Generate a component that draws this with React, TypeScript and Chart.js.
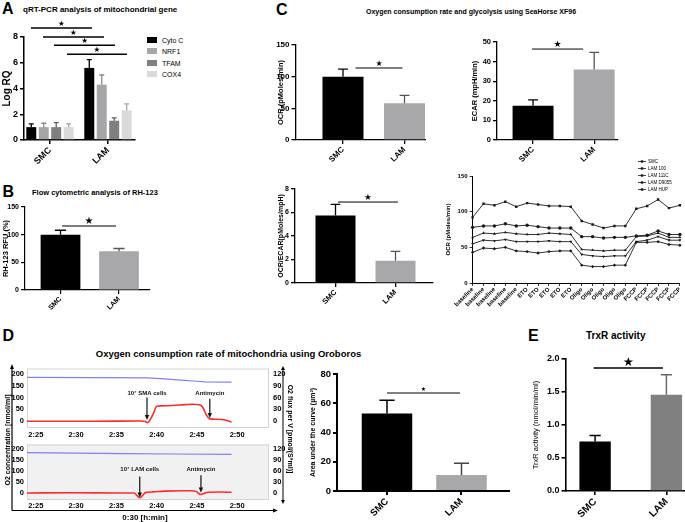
import React, { useEffect, useRef } from 'react';
import { Chart, registerables } from 'chart.js';

Chart.register(...registerables);
const FONT = '"Liberation Sans", Arial, Helvetica, sans-serif';
Chart.defaults.font.family = FONT;
Chart.defaults.color = '#000';

// ---------------- data ----------------
const GROUPS = ['SMC', 'LAM'];

// A: qRT-PCR
const A_GENES = ['Cyto C', 'NRF1', 'TFAM', 'COX4'];
const A_SMC = [1.0, 1.0, 1.0, 1.0];
const A_SMC_ERR = [0.25, 0.3, 0.35, 0.25];
const A_LAM = [5.6, 4.3, 1.5, 2.3];
const A_LAM_ERR = [0.65, 0.75, 0.22, 0.5];
const A_COLORS = ['#000000', '#a6a6a8', '#7f7f81', '#dadada'];
const A_ERR_COLORS = ['#000000', '#8a8a8c', '#5f5f61', '#a5a5a5'];
const A_TICKS = [0, 2, 4, 6, 8];

// B: RH-123
const B_VALUES = [100, 70];
const B_ERR = [8, 5];
const B_TICKS = [0, 50, 100, 150];

// C: SeaHorse
const C_OCR = [100, 58];
const C_OCR_ERR = [12, 12.5];
const C_OCR_TICKS = [0, 50, 100, 150];
const C_ECAR = [17.5, 36];
const C_ECAR_ERR = [3, 8.7];
const C_ECAR_TICKS = [0, 10, 20, 30, 40, 50];
const C_RATIO = [5.75, 1.9];
const C_RATIO_ERR = [0.95, 0.8];
const C_RATIO_TICKS = [0, 2, 4, 6, 8];

const C4_LABELS = [
  'baseline', 'baseline', 'baseline', 'baseline', 'baseline',
  'ETO', 'ETO', 'ETO', 'ETO', 'ETO',
  'Oligo', 'Oligo', 'Oligo', 'Oligo', 'Oligo',
  'FCCP', 'FCCP', 'FCCP', 'FCCP', 'FCCP',
];
const C4_NAMES = ['SMC', 'LAM 100', 'LAM 111C', 'LAM D9055', 'LAM HUP'];
const C4_SMC = [92, 111, 109, 114, 107, 112, 110, 108, 108, 107, 87, 82, 77, 80, 80, 104, 108, 117, 105, 109];
const C4_LAM100 = [78, 80, 80, 83, 80, 81, 79, 77, 77, 77, 65, 65, 63, 64, 64, 66, 67, 73, 68, 68];
const C4_LAM111C = [64, 70, 69, 71, 69, 68, 68, 70, 69, 68, 47, 46, 45, 46, 46, 65, 66, 70, 64, 64];
const C4_LAMD9055 = [55, 60, 59, 61, 58, 58, 58, 59, 58, 58, 40, 38, 37, 38, 38, 58, 60, 65, 60, 60];
const C4_LAMHUP = [43, 49, 48, 50, 45, 44, 42, 44, 45, 45, 25, 23, 23, 25, 25, 57, 57, 58, 54, 53];
const C4_SERIES = [C4_SMC, C4_LAM100, C4_LAM111C, C4_LAMD9055, C4_LAMHUP];
const C4_MARKERS = ['rect', 'circle', 'triangle', 'triangle', 'rectRot'];
const C4_MARKER_ROT = [0, 0, 0, 180, 0];
const C4_TICKS = [0, 50, 100, 150];

// D: Oroboros traces (time in minutes, e.g. 145 = 2:25)
const ORO_TIME_TICKS = [145, 150, 155, 160, 165, 170];
const ORO_LEFT_TICKS = [0, 50, 100, 150, 200];
const ORO_RIGHT_TICKS = [0, 30, 60, 90, 120];
const SMC_O2_T = [143.9, 152, 158.8, 161, 163, 165, 166, 169.3];
const SMC_O2_V = [185, 184, 183, 179, 174, 169, 166, 165];
const SMC_FLUX_T = [143.9, 152, 158, 158.6, 158.85, 159.2, 159.6, 160, 160.5, 162, 163.5, 164.5, 165.3, 165.7, 166.2, 166.6, 167.5, 168.5, 169.3];
const SMC_FLUX_V = [0, 0, 0.5, -1, -4, 4, 20, 38, 39, 40, 42, 43, 42, 36, 15, 6, 5, 3, -2];
const LAM_O2_T = [143.9, 150, 156, 162, 169.3];
const LAM_O2_V = [182, 180, 178, 176, 174];
const LAM_FLUX_T = [143.9, 150, 155, 157.2, 157.6, 157.9, 158.2, 158.6, 159.5, 161, 163, 164.3, 165, 165.4, 165.8, 166.4, 168, 169.3];
const LAM_FLUX_V = [0, 0.5, 0, 0, -8, -13, -8, 1, 3, 5, 6, 6, 3, -4, -2, 2, 2.5, 2];

// D: area under curve
const D_AUC = [53, 11];
const D_AUC_ERR = [9, 8];
const D_TICKS = [0, 20, 40, 60, 80];

// E: TrxR
const E_TRXR = [0.75, 1.46];
const E_TRXR_ERR = [0.09, 0.3];
const E_TICKS = [0, 0.5, 1.0, 1.5, 2.0];

const BLACK = '#000000';
const LGREY = '#a8a8aa';

// ---------------- plugins ----------------
const errPlugin = {
  id: 'errbars',
  afterDatasetsDraw(chart: any, _a: any, opts: any) {
    const { ctx } = chart;
    const ys = chart.scales.y;
    ctx.save();
    chart.data.datasets.forEach((ds: any, di: number) => {
      if (!ds.errors) return;
      const meta = chart.getDatasetMeta(di);
      meta.data.forEach((el: any, i: number) => {
        const v = ds.data[i].y;
        const top = ys.getPixelForValue(v + ds.errors[i]);
        const cap = el.width * opts.capRatio;
        ctx.strokeStyle = ds.errColors[i];
        ctx.lineWidth = opts.lineWidth;
        ctx.beginPath();
        ctx.moveTo(el.x, el.y);
        ctx.lineTo(el.x, top);
        ctx.moveTo(el.x - cap / 2, top);
        ctx.lineTo(el.x + cap / 2, top);
        ctx.stroke();
      });
    });
    ctx.restore();
  },
};

const sigPlugin = {
  id: 'sig',
  afterDraw(chart: any, _a: any, opts: any) {
    const { ctx } = chart;
    const xs = chart.scales.x;
    const ys = chart.scales.y;
    ctx.save();
    (opts.lines || []).forEach((l: any) => {
      const x1 = xs.getPixelForValue(l.x1);
      const x2 = xs.getPixelForValue(l.x2);
      const y = ys.getPixelForValue(l.y);
      ctx.strokeStyle = '#000';
      ctx.lineWidth = opts.lineWidth;
      ctx.beginPath();
      ctx.moveTo(x1, y);
      ctx.lineTo(x2, y);
      ctx.stroke();
      ctx.fillStyle = '#000';
      ctx.font = `${opts.starSize}px "DejaVu Sans", sans-serif`;
      ctx.textAlign = 'center';
      ctx.textBaseline = 'alphabetic';
      ctx.fillText('\u2605', (x1 + x2) / 2, y - opts.gap);
    });
    ctx.restore();
  },
};

const oroBgPlugin = {
  id: 'oroBg',
  beforeDraw(chart: any, _a: any, opts: any) {
    const { ctx, chartArea: a } = chart;
    ctx.save();
    ctx.fillStyle = opts.bg;
    ctx.fillRect(a.left, a.top, a.right - a.left, a.bottom - a.top);
    ctx.strokeStyle = '#d4d4d4';
    ctx.lineWidth = 1;
    ctx.strokeRect(a.left + 0.5, a.top + 0.5, a.right - a.left - 1, a.bottom - a.top - 1);
    ctx.restore();
  },
};

const oroAnnPlugin = {
  id: 'oroAnn',
  afterDatasetsDraw(chart: any, _a: any, opts: any) {
    const { ctx } = chart;
    const xs = chart.scales.x;
    const ys = chart.scales.yR;
    ctx.save();
    (opts.items || []).forEach((it: any) => {
      const x = xs.getPixelForValue(it.t);
      const yTop = ys.getPixelForValue(it.top);
      const yTip = ys.getPixelForValue(it.tip);
      const yLab = ys.getPixelForValue(it.labelAt);
      ctx.strokeStyle = '#111';
      ctx.fillStyle = '#111';
      ctx.lineWidth = 1.2;
      ctx.beginPath();
      ctx.moveTo(x, yTop);
      ctx.lineTo(x, yTip - 4);
      ctx.stroke();
      ctx.beginPath();
      ctx.moveTo(x - 2.2, yTip - 5);
      ctx.lineTo(x + 2.2, yTip - 5);
      ctx.lineTo(x, yTip);
      ctx.closePath();
      ctx.fill();
      ctx.font = `bold 6px ${FONT}`;
      ctx.textAlign = 'center';
      ctx.textBaseline = 'middle';
      ctx.fillText(it.label, x + (it.dx || 0), yLab);
    });
    ctx.restore();
  },
};

// ---------------- config builders ----------------
function makeBarConfig(o: any) {
  const [bl, bt, bw, bh] = o.box;
  const [al, at, ar, ab] = o.area;
  const axisLine = { display: true, color: '#000', width: o.axisW };
  const gridTicks = { display: true, drawOnChartArea: false, drawTicks: true, tickLength: 4, color: '#000', lineWidth: o.axisW, offset: false };
  return {
    type: 'bar',
    data: {
      datasets: o.datasets.map((d: any) => ({
        label: d.label,
        data: d.values.map((v: number, i: number) => ({ x: i + 1, y: v })),
        backgroundColor: d.colors,
        borderWidth: 0,
        errors: d.errors,
        errColors: d.errColors,
        barPercentage: o.barPct,
        categoryPercentage: o.catPct,
      })),
    },
    options: {
      responsive: false,
      animation: false,
      devicePixelRatio: 1,
      layout: { padding: { left: 0, top: at - bt, right: bl + bw - ar, bottom: 0 } },
      plugins: {
        legend: { display: false },
        tooltip: { enabled: false },
        errbars: { capRatio: o.capRatio, lineWidth: o.errW },
        sig: { lines: o.sig, starSize: o.starSize, gap: o.starGap, lineWidth: o.sigW },
      },
      scales: {
        x: {
          type: 'linear',
          min: o.xRange[0],
          max: o.xRange[1],
          offset: false,
          afterBuildTicks: (sc: any) => { sc.ticks = GROUPS.map((_, i) => ({ value: i + 1 })); },
          afterFit: (sc: any) => { sc.height = bt + bh - ab; },
          ticks: {
            autoSkip: false, minRotation: 45, maxRotation: 45, padding: 1, color: '#000',
            font: { size: o.xFont, weight: 'bold' },
            callback: (v: number) => GROUPS[Math.round(v) - 1] ?? '',
          },
          grid: gridTicks,
          border: axisLine,
        },
        y: {
          type: 'linear',
          min: o.yMin,
          max: o.yMax,
          afterBuildTicks: (sc: any) => { sc.ticks = o.yTicks.map((v: number) => ({ value: v })); },
          afterFit: (sc: any) => { sc.width = al - bl; },
          ticks: { padding: 2, color: '#000', font: { size: o.yFont, weight: 'bold' }, callback: o.yFmt ?? ((v: number) => String(v)) },
          grid: gridTicks,
          border: axisLine,
          title: { display: true, text: o.yTitle, padding: 0, color: '#000', font: { size: o.yTitleSize, weight: o.yTitleWeight ?? 'bold' } },
        },
      },
    },
    plugins: [errPlugin, sigPlugin],
  };
}

function pairs(t: number[], v: number[]) {
  return t.map((x, i) => ({ x, y: v[i] }));
}

const fmtTime = (v: number) => `${Math.floor(v / 60)}:${String(Math.round(v % 60)).padStart(2, '0')}`;

function makeOroConfig(o: any) {
  const [bl, bt, bw, bh] = o.box;
  const [al, at, ar, ab] = o.area;
  const tickFont = { size: 7.5, weight: 'bold' };
  return {
    type: 'line',
    data: {
      datasets: [
        { data: pairs(o.o2T, o.o2V), yAxisID: 'yL', borderColor: '#8080f4', borderWidth: 1.2, pointRadius: 0, tension: 0 },
        { data: pairs(o.fluxT, o.fluxV), yAxisID: 'yR', borderColor: '#ff2b2b', borderWidth: 1.6, pointRadius: 0, cubicInterpolationMode: 'monotone' },
      ],
    },
    options: {
      responsive: false,
      animation: false,
      devicePixelRatio: 1,
      layout: { padding: { left: 0, top: at - bt, right: 0, bottom: 0 } },
      plugins: { legend: { display: false }, tooltip: { enabled: false }, oroBg: { bg: o.bg }, oroAnn: { items: o.ann } },
      scales: {
        x: {
          type: 'linear', min: o.xMin, max: o.xMax,
          afterBuildTicks: (sc: any) => { sc.ticks = ORO_TIME_TICKS.map((v) => ({ value: v })); },
          afterFit: (sc: any) => { sc.height = bt + bh - ab; },
          ticks: { font: tickFont, padding: o.xPad, color: '#000', callback: fmtTime, minRotation: 0, maxRotation: 0, autoSkip: false },
          grid: { display: false, drawTicks: false },
          border: { display: false },
        },
        yL: {
          type: 'linear', position: 'left', min: o.lMin, max: o.lMax,
          afterBuildTicks: (sc: any) => { sc.ticks = ORO_LEFT_TICKS.map((v) => ({ value: v })); },
          afterFit: (sc: any) => { sc.width = al - bl; },
          ticks: { font: tickFont, padding: 3, color: '#000' },
          grid: { display: false, drawTicks: false },
          border: { display: false },
        },
        yR: {
          type: 'linear', position: 'right', min: o.rMin, max: o.rMax,
          afterBuildTicks: (sc: any) => { sc.ticks = ORO_RIGHT_TICKS.map((v) => ({ value: v })); },
          afterFit: (sc: any) => { sc.width = bl + bw - ar; },
          ticks: { font: tickFont, padding: 4, color: '#000' },
          grid: { display: false, drawTicks: false },
          border: { display: false },
        },
      },
    },
    plugins: [oroBgPlugin, oroAnnPlugin],
  };
}

function makeLineConfig(o: any) {
  const [bl, bt, bw, bh] = o.box;
  const [al, at, ar, ab] = o.area;
  return {
    type: 'line',
    data: {
      labels: C4_LABELS,
      datasets: C4_SERIES.map((vals, i) => ({
        label: C4_NAMES[i],
        data: vals,
        borderColor: '#1a1a1a',
        borderWidth: 0.9,
        pointRadius: 1.7,
        pointStyle: C4_MARKERS[i],
        rotation: C4_MARKER_ROT[i],
        pointBackgroundColor: '#1a1a1a',
        pointBorderColor: '#1a1a1a',
        pointBorderWidth: 0,
        tension: 0,
      })),
    },
    options: {
      responsive: false,
      animation: false,
      devicePixelRatio: 1,
      layout: { padding: { left: 0, top: at - bt, right: bl + bw - ar, bottom: 0 } },
      plugins: { legend: { display: false }, tooltip: { enabled: false } },
      scales: {
        x: {
          type: 'category', offset: false,
          afterFit: (sc: any) => { sc.height = bt + bh - ab; },
          ticks: { autoSkip: false, minRotation: 45, maxRotation: 45, padding: 0, color: '#000', font: { size: 6, weight: 'bold' } },
          grid: { display: true, drawOnChartArea: false, drawTicks: true, tickLength: 3, color: '#000', lineWidth: 0.8, offset: false },
          border: { display: true, color: '#000', width: 1 },
        },
        y: {
          type: 'linear', min: 0, max: 150,
          afterBuildTicks: (sc: any) => { sc.ticks = C4_TICKS.map((v) => ({ value: v })); },
          afterFit: (sc: any) => { sc.width = al - bl; },
          ticks: { padding: 2, color: '#000', font: { size: 6, weight: 'bold' } },
          grid: { display: true, drawOnChartArea: false, drawTicks: true, tickLength: 3, color: '#000', lineWidth: 0.8 },
          border: { display: true, color: '#000', width: 1 },
          title: { display: true, text: 'OCR (pMoles/min)', padding: 0, color: '#000', font: { size: 6, weight: 'bold' } },
        },
      },
    },
  };
}

// ---------------- components ----------------
function ChartBox({ box, config }: { box: number[]; config: any }) {
  const ref = useRef<HTMLCanvasElement>(null);
  useEffect(() => {
    const c = new Chart(ref.current as HTMLCanvasElement, config);
    return () => c.destroy();
  }, []);
  const w = Math.round(box[2]);
  const h = Math.round(box[3]);
  return (
    <div style={{ position: 'absolute', left: box[0], top: box[1], width: w, height: h }}>
      <canvas ref={ref} width={w} height={h} style={{ width: w, height: h, display: 'block' }} />
    </div>
  );
}

function Txt({ x, y, size, text, bold = true, center = false, rotate = 0 }: any) {
  const tx = center || rotate ? '-50%' : '0';
  return (
    <div
      style={{
        position: 'absolute', left: x, top: y, fontFamily: FONT, fontSize: size, fontWeight: bold ? 700 : 400,
        lineHeight: 1, whiteSpace: 'nowrap', color: '#000',
        transform: `translate(${tx}, -50%)${rotate ? ` rotate(${rotate}deg)` : ''}`,
      }}
    >
      {text}
    </div>
  );
}

const barDs = (label: string, values: number[], errors: number[], colors: string[], errColors: string[]) => ({ label, values, errors, colors, errColors });

export default function App() {
  const cfgA = makeBarConfig({
    box: [1, 15, 139, 155], area: [24, 37, 135, 140], xRange: [0.552, 2.466], catPct: 0.86, barPct: 0.8,
    datasets: A_GENES.map((g, i) => barDs(g, [A_SMC[i], A_LAM[i]], [A_SMC_ERR[i], A_LAM_ERR[i]], [A_COLORS[i], A_COLORS[i]], [A_ERR_COLORS[i], A_ERR_COLORS[i]])),
    yMin: 0, yMax: 8, yTicks: A_TICKS, yFont: 9, xFont: 9, yTitle: 'Log RQ', yTitleSize: 10,
    sig: [{ x1: 0.672, x2: 1.724, y: 8.7 }, { x1: 0.879, x2: 1.931, y: 8.0 }, { x1: 1.069, x2: 2.121, y: 7.36 }, { x1: 1.293, x2: 2.328, y: 6.66 }],
    starSize: 7.5, starGap: 2, sigW: 1.3, axisW: 1.5, capRatio: 0.5, errW: 1.3,
  });
  const cfgB = makeBarConfig({
    box: [1, 200, 154, 118], area: [25, 207, 150, 290], xRange: [0.393, 2.53], catPct: 1, barPct: 0.68,
    datasets: [barDs('RH-123', B_VALUES, B_ERR, [BLACK, LGREY], [BLACK, '#555555'])],
    yMin: 0, yMax: 150, yTicks: B_TICKS, yFont: 7, xFont: 7, yTitle: 'RH-123 RFU (%)', yTitleSize: 7.5,
    sig: [{ x1: 1.026, x2: 1.949, y: 115.7 }], starSize: 10, starGap: 2, sigW: 1.1, axisW: 1.2, capRatio: 0.28, errW: 1.3,
  });
  const cfgC1 = makeBarConfig({
    box: [275.5, 30, 150, 140], area: [295, 45, 425, 140], xRange: [0.228, 2.341], catPct: 1, barPct: 0.667,
    datasets: [barDs('OCR', C_OCR, C_OCR_ERR, [BLACK, LGREY], [BLACK, '#555555'])],
    yMin: 0, yMax: 150, yTicks: C_OCR_TICKS, yFont: 8, xFont: 8, yTitle: 'OCR (pMoles/min)', yTitleSize: 7.5,
    sig: [{ x1: 1.203, x2: 1.967, y: 113.7 }], starSize: 8, starGap: 2, sigW: 1, axisW: 1.3, capRatio: 0.24, errW: 1.3,
  });
  const cfgC2 = makeBarConfig({
    box: [470, 30, 150, 140], area: [497, 42, 618, 140], xRange: [0.41, 2.39], catPct: 1, barPct: 0.67,
    datasets: [barDs('ECAR', C_ECAR, C_ECAR_ERR, [BLACK, LGREY], [BLACK, '#555555'])],
    yMin: 0, yMax: 50, yTicks: C_ECAR_TICKS, yFont: 7.5, xFont: 8, yTitle: 'ECAR (mpH/min)', yTitleSize: 7.5,
    sig: [{ x1: 0.984, x2: 1.82, y: 46.4 }], starSize: 9, starGap: 2, sigW: 1, axisW: 1.3, capRatio: 0.24, errW: 1.3,
  });
  const cfgC3 = makeBarConfig({
    box: [277, 176, 158, 139], area: [295, 189, 433, 283], xRange: [0.325, 2.625], catPct: 1, barPct: 0.667,
    datasets: [barDs('OCR/ECAR', C_RATIO, C_RATIO_ERR, [BLACK, LGREY], [BLACK, '#555555'])],
    yMin: 0, yMax: 8, yTicks: C_RATIO_TICKS, yFont: 7, xFont: 7.5, yTitle: 'OCR/ECAR(pMoles/mpH)', yTitleSize: 7,
    sig: [{ x1: 1.04, x2: 2.04, y: 6.89 }], starSize: 8.7, starGap: 2, sigW: 1, axisW: 1.3, capRatio: 0.24, errW: 1.3,
  });
  const cfgD = makeBarConfig({
    box: [309, 365, 201, 155], area: [337, 374, 510, 491], xRange: [0.329, 2.651], catPct: 1, barPct: 0.678,
    datasets: [barDs('AUC', D_AUC, D_AUC_ERR, [BLACK, LGREY], [BLACK, '#444444'])],
    yMin: 0, yMax: 80, yTicks: D_TICKS, yFont: 9.5, xFont: 9.5, yTitle: 'Area under the curve (\u00b5m\u00b2)', yTitleSize: 7,
    sig: [{ x1: 1.0, x2: 1.98, y: 67 }], starSize: 6, starGap: 2, sigW: 1, axisW: 2, capRatio: 0.3, errW: 1.5,
  });
  const cfgE = makeBarConfig({
    box: [530.5, 350, 154.5, 170], area: [565, 359, 685, 491], xRange: [0.585, 2.275], catPct: 1, barPct: 0.44,
    datasets: [barDs('TrxR', E_TRXR, E_TRXR_ERR, [BLACK, '#808080'], [BLACK, '#6a6a6a'])],
    yMin: 0, yMax: 2, yTicks: E_TICKS, yFont: 9, xFont: 10, yTitle: 'TrxR activity (nmol/min/ml)', yTitleSize: 7.5, yTitleWeight: 'normal',
    yFmt: (v: number) => v.toFixed(1),
    sig: [{ x1: 0.979, x2: 1.951, y: 1.864 }], starSize: 12.5, starGap: 2, sigW: 1.3, axisW: 1.6, capRatio: 0.36, errW: 1.5,
  });
  const cfgC4 = makeLineConfig({ box: [445.4, 170, 239.6, 145], area: [473, 176, 680, 283] });
  const cfgOroTop = makeOroConfig({
    box: [10, 360, 277, 80], area: [27, 367, 269, 428], xMin: 143.9, xMax: 173.95, xPad: 2,
    lMin: -28.6, lMax: 222.9, rMin: -17.2, rMax: 133.8, bg: '#ffffff',
    o2T: SMC_O2_T, o2V: SMC_O2_V, fluxT: SMC_FLUX_T, fluxV: SMC_FLUX_V,
    ann: [
      { t: 158.8, top: 60, tip: 3, labelAt: 72, label: '10\u2077 SMA cells' },
      { t: 166.6, top: 57, tip: 8, labelAt: 72, label: 'Antimycin' },
    ],
  });
  const cfgOroBot = makeOroConfig({
    box: [10, 436, 277, 78], area: [27, 440, 269, 500], xMin: 143.9, xMax: 173.95, xPad: 1,
    lMin: -32, lMax: 219, rMin: -19, rMax: 131.5, bg: '#f1f1f1',
    o2T: LAM_O2_T, o2V: LAM_O2_V, fluxT: LAM_FLUX_T, fluxV: LAM_FLUX_V,
    ann: [
      { t: 157.9, top: 45, tip: -12, labelAt: 65, label: '10\u2077 LAM cells' },
      { t: 165.5, top: 48, tip: 1, labelAt: 65, label: 'Antimycin' },
    ],
  });

  return (
    <div style={{ position: 'fixed', left: 0, top: 0, width: 685, height: 522, background: '#fff', overflow: 'hidden' }}>
      {/* Panel letters and titles */}
      <Txt x={2} y={8.5} size={16} text="A" />
      <Txt x={23} y={10} size={8} text="qRT-PCR analysis of mitochondrial gene" />
      <Txt x={2.5} y={191.5} size={16} text="B" />
      <Txt x={32} y={193} size={7.5} text="Flow cytometric analysis of RH-123" />
      <Txt x={276} y={9.5} size={16} text="C" />
      <Txt x={471} y={10.5} size={7} text="Oxygen consumption rate and glycolysis using SeaHorse XF96" center />
      <Txt x={2.5} y={336} size={16} text="D" />
      <Txt x={228.5} y={353.5} size={9.5} text="Oxygen consumption rate of mitochondria using Oroboros" center />
      <Txt x={528} y={335.5} size={16} text="E" />
      <Txt x={586} y={336} size={10} text="TrxR activity" />

      <ChartBox box={[1, 15, 139, 155]} config={cfgA} />
      <ChartBox box={[1, 200, 154, 118]} config={cfgB} />
      <ChartBox box={[275.5, 30, 150, 140]} config={cfgC1} />
      <ChartBox box={[470, 30, 150, 140]} config={cfgC2} />
      <ChartBox box={[277, 176, 158, 139]} config={cfgC3} />
      <ChartBox box={[445.4, 170, 239.6, 145]} config={cfgC4} />
      <ChartBox box={[10, 360, 277, 80]} config={cfgOroTop} />
      <ChartBox box={[10, 436, 277, 78]} config={cfgOroBot} />
      <ChartBox box={[309, 365, 201, 155]} config={cfgD} />
      <ChartBox box={[530.5, 350, 154.5, 170]} config={cfgE} />

      {/* Legend A */}
      {A_GENES.map((g, i) => (
        <React.Fragment key={g}>
          <div style={{ position: 'absolute', left: 147, top: 36.5 + i * 11.5, width: 10, height: 6, background: A_COLORS[i] }} />
          <Txt x={162} y={39.5 + i * 11.5} size={7} bold={false} text={g} />
        </React.Fragment>
      ))}

      {/* Legend C4 */}
      {C4_NAMES.map((n, i) => (
        <React.Fragment key={n}>
          <svg style={{ position: 'absolute', left: 638, top: 159 + i * 7, width: 8, height: 5 }} width={8} height={5}>
            <line x1={0} y1={2.5} x2={8} y2={2.5} stroke="#1a1a1a" strokeWidth={0.8} />
            <rect x={2.8} y={1.3} width={2.4} height={2.4} fill="#1a1a1a" />
          </svg>
          <Txt x={648} y={161.5 + i * 7} size={4.5} bold={false} text={n} />
        </React.Fragment>
      ))}

      {/* Oroboros axes decorations */}
      <svg style={{ position: 'absolute', left: 0, top: 0 }} width={685} height={522}>
        <line x1={12} y1={368} x2={12} y2={510.5} stroke="#000" strokeWidth={1.2} />
        <polygon points="12,364 10,369 14,369" fill="#000" />
        <line x1={12} y1={510.5} x2={274} y2={510.5} stroke="#000" strokeWidth={1.2} />
        <polygon points="278,510.5 273,508.5 273,512.5" fill="#000" />
        <line x1={283} y1={369} x2={283} y2={501} stroke="#000" strokeWidth={1} />
        <polygon points="283,366 281,370 285,370" fill="#000" />
        <polygon points="283,504 281,500 285,500" fill="#000" />
      </svg>
      <Txt x={7} y={440} size={7} text="O2 concentration [nmol/ml]" rotate={-90} />
      <Txt x={290} y={429} size={7} text="O2 flux per V [pmol/(S*ml)]" rotate={90} />
      <Txt x={145} y={517.5} size={8} text="0:30 [h:min]" center />
    </div>
  );
}
